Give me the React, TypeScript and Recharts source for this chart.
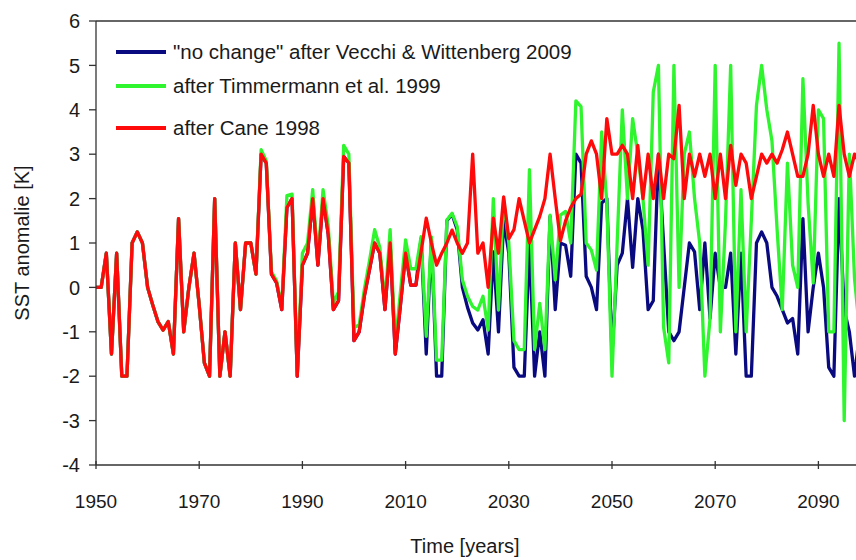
import React from 'react';
import { LineChart, Line, XAxis, YAxis, ReferenceLine, Legend, Label } from 'recharts';

const years: number[] = Array.from({ length: 151 }, (_, i) => 1950 + i);

const noChange: number[] = [
  // 1950-1959
  0, 0, 0.77, -1.5, 0.77, -2, -2, 1, 1.25, 1,
  // 1960-1969
  0, -0.4, -0.77, -0.96, -0.77, -1.5, 1.55, -1, 0, 0.77,
  // 1970-1979
  -0.4, -1.7, -2, 2, -2, -1, -2, 1, -0.5, 1,
  // 1980-1989
  1, 0.3, 3, 2.8, 0.3, 0.1, -0.5, 1.8, 2, -2,
  // 1990-1999
  0.5, 0.77, 2, 0.5, 2, 1.2, -0.5, -0.3, 2.95, 2.8,
  // 2000-2009
  -1.2, -1, -0.2, 0.4, 1, 0.77, -0.5, 1, -1.5, -0.4,
  // 2010-2019
  0.77, 0.05, 0.05, 1.1, -1.5, 1.1, -2, -2, 1.5, 1.65,
  // 2020-2029
  1.3, 0, -0.45, -0.8, -0.96, -0.73, -1.5, 0.8, -1, 1.5,
  // 2030-2039
  0.77, -1.8, -2, -2, 1, -2, -1, -2, 1.6, -0.5,
  // 2040-2049
  1, 0.95, 0.25, 3, 2.8, 0.25, 0, -0.5, 1.9, 2,
  // 2050-2059
  -1.5, 0.5, 0.77, 2, 0.45, 2, 1.3, -0.5, -0.3, 3,
  // 2060-2069
  1, -1, -1.2, -1, 0, 1, 0.8, -0.5, 1, -0.7,
  // 2070-2079
  0.77, 0, 0, 0.77, -1.5, 0.77, -2, -2, 1, 1.25,
  // 2080-2089
  1, 0, -0.2, -0.5, -0.8, -0.7, -1.5, 1.55, -1, 0,
  // 2090-2100
  0.77, 0, -1.8, -2, 2, -0.5, -1, -2, -1, 0.5, 0,
];

const timmermann: number[] = [
  // 1950-1959
  0, 0, 0.77, -1.5, 0.77, -2, -2, 1, 1.25, 1,
  // 1960-1969
  0, -0.4, -0.77, -0.96, -0.77, -1.5, 1.55, -1, 0, 0.77,
  // 1970-1979
  -0.4, -1.7, -2, 2, -2, -1, -2, 1, -0.5, 1,
  // 1980-1989
  1, 0.3, 3.1, 2.85, 0.35, 0.15, -0.45, 2.07, 2.1, -1.95,
  // 1990-1999
  0.77, 1, 2.2, 0.6, 2.2, 1.4, -0.35, -0.1, 3.2, 3,
  // 2000-2009
  -0.9, -0.85, -0.05, 0.6, 1.3, 0.9, -0.35, 1.3, -1.3, -0.1,
  // 2010-2019
  1.07, 0.42, 0.42, 1.14, -1.1, 1.14, -1.64, -1.64, 1.52, 1.67,
  // 2020-2029
  1.37, 0.17, -0.2, -0.43, -0.51, -0.2, -0.96, 2, -0.51, 2,
  // 2030-2039
  1, -1.2, -1.4, -1.4, 2.65, -1.4, -0.36, -1.4, 1.63, 0.17,
  // 2040-2049
  1.63, 1.71, 1, 4.2, 4.07, 1, 0.84, 0.39, 3.5, 1.9,
  // 2050-2059
  -2, 1, 4, 2, 3.8, 3, 2, 0.5, 4.4, 5,
  // 2060-2069
  -0.9, -1.7, 5, 0, 3, 3.5, 2, 1, -2, -0.7,
  // 2070-2079
  5, -1, 1.5, 5, -1, 2.2, -1, 1.5, 4.1, 5,
  // 2080-2089
  4, 3.3, 1.3, -0.5, 2.8, 0.5, 0, 4.7, 1.9, 0.1,
  // 2090-2100
  4, 3.8, -1, -1, 5.5, -3, 3, 0.2, -1, 1, 0.5,
];

const cane: number[] = [
  // 1950-1959
  0, 0, 0.77, -1.5, 0.77, -2, -2, 1, 1.25, 1,
  // 1960-1969
  0, -0.4, -0.77, -0.96, -0.77, -1.5, 1.55, -1, 0, 0.77,
  // 1970-1979
  -0.4, -1.7, -2, 2, -2, -1, -2, 1, -0.5, 1,
  // 1980-1989
  1, 0.3, 3, 2.8, 0.3, 0.1, -0.5, 1.8, 2, -2,
  // 1990-1999
  0.5, 0.77, 2, 0.5, 2, 1.2, -0.5, -0.3, 2.95, 2.8,
  // 2000-2009
  -1.2, -1, -0.2, 0.4, 1, 0.77, -0.5, 1, -1.5, -0.4,
  // 2010-2019
  0.77, 0.05, 0.05, 0.8, 1.56, 1, 0.5, 0.77, 1, 1.29,
  // 2020-2029
  1, 0.77, 1, 3, 0.77, 1, 0, 1.56, 0.77, 2.04,
  // 2030-2039
  1.1, 1.3, 2, 1.5, 1, 1.3, 1.6, 2, 3, 2,
  // 2040-2049
  1.05, 1.5, 1.8, 2, 2.1, 3, 3.3, 3, 2, 3.8,
  // 2050-2059
  3, 3, 3.2, 3, 2, 3.2, 2, 3, 2, 3,
  // 2060-2069
  2, 3, 2.9, 4.1, 2, 3, 2.5, 3, 2.5, 3,
  // 2070-2079
  2, 3, 2, 3.2, 2.3, 3, 2.8, 2, 2.5, 3,
  // 2080-2089
  2.8, 3, 2.8, 3.1, 3.5, 3, 2.5, 2.5, 3, 4.1,
  // 2090-2100
  3, 2.5, 3, 2.5, 4.1, 3, 2.5, 3, 2.8, 3, 2.7,
];

const xTicks: number[] = [1950, 1970, 1990, 2010, 2030, 2050, 2070, 2090];
const yTicks: number[] = [-4, -3, -2, -1, 0, 1, 2, 3, 4, 5, 6];

const seriesOrder: string[] = ['noChange', 'timmermann', 'cane'];
const seriesNames: Record<string, string> = {
  noChange: '"no change" after Vecchi & Wittenberg 2009',
  timmermann: 'after Timmermann et al. 1999',
  cane: 'after Cane 1998',
};
const seriesColors: Record<string, string> = {
  noChange: '#0a0a80',
  timmermann: '#2ef52e',
  cane: '#ff0a0a',
};

const data = years.map((year, i) => ({
  year,
  noChange: noChange[i],
  timmermann: timmermann[i],
  cane: cane[i],
}));

const FONT = '"Liberation Sans", Arial, Helvetica, sans-serif';
const TEXT = '#1a1a1a';
const AXIS = '#333333';

const XTick = (props: any) => {
  const { x, y, payload } = props;
  return (
    <g>
      <line x1={x} x2={x} y1={y - 4} y2={y + 4} stroke={AXIS} strokeWidth={1.3} />
      <text x={x} y={y + 43} textAnchor="middle" fontSize={19} fill={TEXT} fontFamily={FONT}>
        {payload.value}
      </text>
    </g>
  );
};

const legendRows = [52, 86, 128];

const LegendContent = (props: any) => {
  const payload = [...(props.payload || [])].sort(
    (a: any, b: any) => seriesOrder.indexOf(a.dataKey) - seriesOrder.indexOf(b.dataKey)
  );
  return (
    <div style={{ position: 'relative', width: 600, height: 150, fontFamily: FONT }}>
      {payload.map((entry: any, i: number) => (
        <div key={String(entry.dataKey)}>
          <div
            style={{
              position: 'absolute',
              left: 116,
              top: legendRows[i] - 1.6,
              width: 50,
              height: 3.3,
              background: entry.color,
            }}
          />
          <div
            style={{
              position: 'absolute',
              left: 173,
              top: legendRows[i] - 12,
              height: 24,
              lineHeight: '24px',
              fontSize: 20.5,
              color: TEXT,
              whiteSpace: 'nowrap',
            }}
          >
            {entry.value}
          </div>
        </div>
      ))}
    </div>
  );
};

export default function App() {
  return (
    <div
      style={{
        position: 'absolute',
        left: 0,
        top: 0,
        width: 856,
        height: 560,
        overflow: 'hidden',
        background: '#ffffff',
        fontFamily: FONT,
      }}
    >
      <LineChart width={880} height={560} data={data} margin={{ top: 21, right: 10, bottom: 0, left: 0 }}>
        <XAxis
          dataKey="year"
          type="number"
          domain={[1950, 2100]}
          ticks={xTicks}
          interval={0}
          tickSize={0}
          tickMargin={0}
          tickLine={false}
          tick={<XTick />}
          axisLine={{ stroke: AXIS, strokeWidth: 1.3 }}
          height={95}
          allowDataOverflow
        >
          <Label
            value="Time [years]"
            position="insideBottom"
            offset={7}
            dx={-18}
            style={{ fontSize: 20, fill: TEXT, fontFamily: FONT }}
          />
        </XAxis>
        <YAxis
          type="number"
          domain={[-4, 6]}
          ticks={yTicks}
          interval={0}
          width={96}
          tickSize={7}
          tickMargin={9}
          tick={{ fontSize: 20, fill: TEXT, fontFamily: FONT }}
          tickLine={{ stroke: AXIS, strokeWidth: 1.3 }}
          axisLine={{ stroke: AXIS, strokeWidth: 1.3 }}
          allowDataOverflow
        >
          <Label
            value="SST anomalie [K]"
            angle={-90}
            position="insideLeft"
            offset={22}
            style={{ textAnchor: 'middle', fontSize: 20, fill: TEXT, fontFamily: FONT }}
          />
        </YAxis>
        <ReferenceLine y={6} stroke={AXIS} strokeWidth={1.3} />
        <Legend
          layout="vertical"
          align="center"
          verticalAlign="middle"
          content={<LegendContent />}
          wrapperStyle={{ position: 'absolute', left: 0, top: 0, width: 600, height: 150 }}
        />
        {seriesOrder.map((key) => (
          <Line
            key={key}
            type="linear"
            dataKey={key}
            name={seriesNames[key]}
            stroke={seriesColors[key]}
            strokeWidth={3.3}
            strokeLinejoin="round"
            dot={false}
            activeDot={false}
            isAnimationActive={false}
          />
        ))}
      </LineChart>
    </div>
  );
}
